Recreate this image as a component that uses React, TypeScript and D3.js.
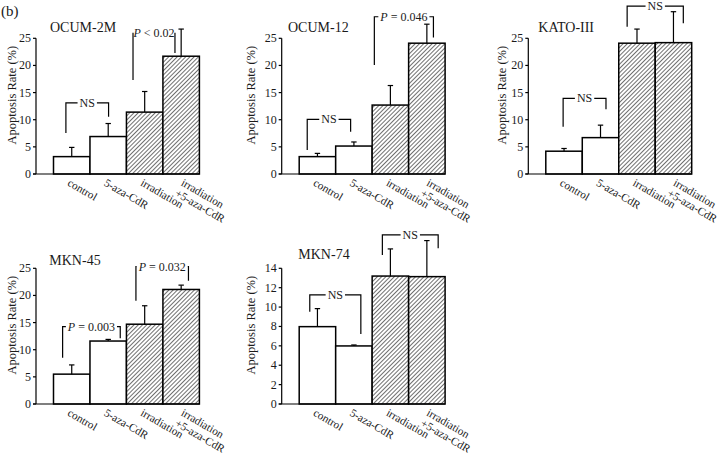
import React from 'react';
import * as d3 from 'd3';

const categories = ["control", "5-aza-CdR", "irradiation", "irradiation\n+5-aza-CdR"];
const panelNames = ["OCUM-2M", "OCUM-12", "KATO-III", "MKN-45", "MKN-74"];

const ocum2mMean = [3.2, 6.9, 11.4, 21.7];
const ocum2mSD = [1.7, 2.4, 3.8, 5.0];
const ocum12Mean = [3.2, 5.15, 12.7, 24.1];
const ocum12SD = [0.6, 0.75, 3.6, 3.5];
const katoMean = [4.2, 6.7, 24.1, 24.2];
const katoSD = [0.5, 2.3, 2.6, 5.7];
const mkn45Mean = [5.5, 11.6, 14.7, 21.1];
const mkn45SD = [1.7, 0.3, 3.4, 0.8];
const mkn74Mean = [7.98, 5.99, 13.2, 13.14];
const mkn74SD = [1.86, 0.1, 2.8, 3.72];

const ticks25 = [0, 5, 10, 15, 20, 25];
const ticks14 = [0, 2, 4, 6, 8, 10, 12, 14];

// significance brackets (values in % units)
const ocum2mBrackets = [
  { from: 0, to: 1, label: "NS", top: 13.1, left: 7.55, right: 10.55 },
  { from: 2, to: 3, label: "P < 0.02", top: 26.0, left: 17.3, right: 22.3 },
];
const ocum12Brackets = [
  { from: 0, to: 1, label: "NS", top: 10.07, left: 4.42, right: 7.79 },
  { from: 2, to: 3, label: "P = 0.046", top: 28.97, left: 20.07, right: 25.17 },
];
const katoBrackets = [
  { from: 0, to: 1, label: "NS", top: 13.94, left: 8.71, right: 11.92 },
  { from: 2, to: 3, label: "NS", top: 30.94, left: 27.13, right: 27.75 },
];
const mkn45Brackets = [
  { from: 0, to: 1, label: "P = 0.003", top: 14.24, left: 8.53, right: 12.1 },
  { from: 2, to: 3, label: "P = 0.032", top: 25.3, left: 19.02, right: 22.7 },
];
const mkn74Brackets = [
  { from: 0, to: 1, label: "NS", top: 11.25, left: 9.52, right: 7.22 },
  { from: 2, to: 3, label: "NS", top: 17.44, left: 15.38, right: 16.07 },
];

const panelData = [
  { mean: ocum2mMean, sd: ocum2mSD, ticks: ticks25, brackets: ocum2mBrackets },
  { mean: ocum12Mean, sd: ocum12SD, ticks: ticks25, brackets: ocum12Brackets },
  { mean: katoMean, sd: katoSD, ticks: ticks25, brackets: katoBrackets },
  { mean: mkn45Mean, sd: mkn45SD, ticks: ticks25, brackets: mkn45Brackets },
  { mean: mkn74Mean, sd: mkn74SD, ticks: ticks14, brackets: mkn74Brackets },
];

// layout
const layouts = [
  { axisX: 36, y0: 174, yTop: 38.3, titleX: 50, titleY: 31.7, yLabDx: 24.5, legs: [[0.34, 0.51], [0.18, 0.33]] },
  { axisX: 281.7, y0: 174, yTop: 38.3, titleX: 288, titleY: 31.7, yLabDx: 30.5, legs: [[0.22, 0.41], [0.06, 0.68]] },
  { axisX: 528.3, y0: 174, yTop: 38.3, titleX: 538.3, titleY: 31.7, yLabDx: 26.5, legs: [[0.475, 0.65], [0.23, 0.77]] },
  { axisX: 36, y0: 404, yTop: 268.3, titleX: 49.3, titleY: 265, yLabDx: 24.5, legs: [[0.25, 0.83], [0.26, 0.7]] },
  { axisX: 281.7, y0: 404, yTop: 268.3, titleX: 298.3, titleY: 259.3, yLabDx: 30.5, legs: [[0.29, 0.69], [0.28, 0.81]] },
];

const FONT = "'Liberation Serif', 'Times New Roman', serif";
const INK = "#1a1a1a";

let ctx: CanvasRenderingContext2D | null = null;
function measure(text: string, size: number, italic = false) {
  if (!ctx) ctx = document.createElement('canvas').getContext('2d');
  if (!ctx) return text.length * size * 0.5;
  ctx.font = `${italic ? 'italic ' : ''}${size}px 'Liberation Serif'`;
  return ctx.measureText(text).width;
}

function BracketLabel({ label, x, y }: { label: string; x: number; y: number }) {
  const isP = label.startsWith("P");
  const rest = isP ? label.slice(1) : label;
  return (
    <text x={x} y={y + 4} textAnchor="middle" fontFamily={FONT} fontSize={12} fill={INK}>
      {isP ? <tspan fontStyle="italic">P</tspan> : null}
      <tspan>{rest}</tspan>
    </text>
  );
}

function Panel({ idx }: { idx: number }) {
  const d = panelData[idx];
  const L = layouts[idx];
  const ymax = d.ticks[d.ticks.length - 1];
  const x = d3.scaleBand<string>().domain(categories).range([L.axisX + 17.5, L.axisX + 163.4]).padding(0);
  const y = d3.scaleLinear().domain([0, ymax]).range([L.y0, L.yTop]);
  const bw = x.bandwidth();
  const yLabCenter = (L.y0 + L.yTop) / 2 - 11;
  return (
    <g>
      <text x={L.titleX} y={L.titleY} fontFamily={FONT} fontSize={14} fill={INK}>{panelNames[idx]}</text>
      <text transform={`translate(${L.axisX - L.yLabDx},${yLabCenter}) rotate(-90)`} textAnchor="middle"
        dominantBaseline="central" fontFamily={FONT} fontSize={12.5} fill={INK}>Apoptosis Rate (%)</text>
      {/* bars */}
      {categories.map((c, i) => (
        <rect key={c} x={x(c)} y={y(d.mean[i])} width={bw} height={L.y0 - y(d.mean[i])}
          fill={i >= 2 ? "url(#hatch)" : "#fff"} stroke="#000" strokeWidth={1.5} />
      ))}
      {/* error bars */}
      {categories.map((c, i) => {
        const cx = (x(c) as number) + bw / 2;
        const yt = y(d.mean[i] + d.sd[i]);
        return (
          <g key={'e' + c} stroke="#000" strokeWidth={1.2}>
            <line x1={cx} x2={cx} y1={y(d.mean[i])} y2={yt} />
            <line x1={cx - 2.7} x2={cx + 2.7} y1={yt} y2={yt} />
          </g>
        );
      })}
      {/* axes */}
      <line x1={L.axisX} x2={L.axisX} y1={L.y0} y2={L.yTop} stroke="#000" strokeWidth={1.2} />
      <line x1={L.axisX - 3} x2={L.axisX + 163.4} y1={L.y0} y2={L.y0} stroke="#000" strokeWidth={1.2} />
      {d.ticks.map(t => (
        <g key={t}>
          <line x1={L.axisX - 3} x2={L.axisX} y1={y(t)} y2={y(t)} stroke="#000" strokeWidth={1.2} />
          <text x={L.axisX - 5} y={y(t)} textAnchor="end" dominantBaseline="central"
            fontFamily={FONT} fontSize={12} fill={INK}>{t}</text>
        </g>
      ))}
      {/* x labels */}
      {categories.map((c, i) => {
        const cx = (x(c) as number) + bw / 2;
        const lines = c.split("\n");
        const bx = lines.length > 1 ? cx - 1 : cx - 5;
        return (
          <text key={'l' + c} transform={`translate(${bx},${L.y0 + 11}) rotate(30)`}
            fontFamily={FONT} fontSize={11.3} fill={INK}>
            {lines.map((ln, k) => (
              <tspan key={k} x={0} dy={k === 0 ? 0 : 12}>{ln}</tspan>
            ))}
          </text>
        );
      })}
      {/* brackets */}
      {d.brackets.map((b, k) => {
        const xl = (x(categories[b.from]) as number) + bw * L.legs[k][0];
        const xr = (x(categories[b.to]) as number) + bw * L.legs[k][1];
        const yt = y(b.top);
        const mid = (xl + xr) / 2;
        const isP = b.label.startsWith("P");
        const w = isP ? measure("P", 12, true) + measure(b.label.slice(1), 12) : measure(b.label, 12);
        const gl = mid - w / 2 - 2;
        const gr = mid + w / 2 + 2;
        return (
          <g key={'b' + k}>
            <g stroke="#000" strokeWidth={1.2} fill="none">
              <polyline points={`${xl},${y(b.left)} ${xl},${yt} ${Math.max(xl, gl)},${yt}`} />
              <polyline points={`${Math.min(xr, gr)},${yt} ${xr},${yt} ${xr},${y(b.right)}`} />
            </g>
            <BracketLabel label={b.label} x={mid} y={yt} />
          </g>
        );
      })}
    </g>
  );
}

export default function App() {
  return (
    <svg width={720} height={456} style={{ position: 'absolute', left: 0, top: 0, background: '#fff' }}>
      <defs>
        <pattern id="hatch" width={3} height={3} patternUnits="userSpaceOnUse" patternTransform="rotate(45)">
          <rect width={3} height={3} fill="#fff" />
          <line x1={0} y1={0} x2={0} y2={3} stroke="#222" strokeWidth={1.3} />
        </pattern>
      </defs>
      <rect width={720} height={456} fill="#fff" />
      <text x={1} y={16} fontFamily={FONT} fontSize={15} fill={INK}>(b)</text>
      {panelNames.map((_, i) => <Panel key={i} idx={i} />)}
    </svg>
  );
}
